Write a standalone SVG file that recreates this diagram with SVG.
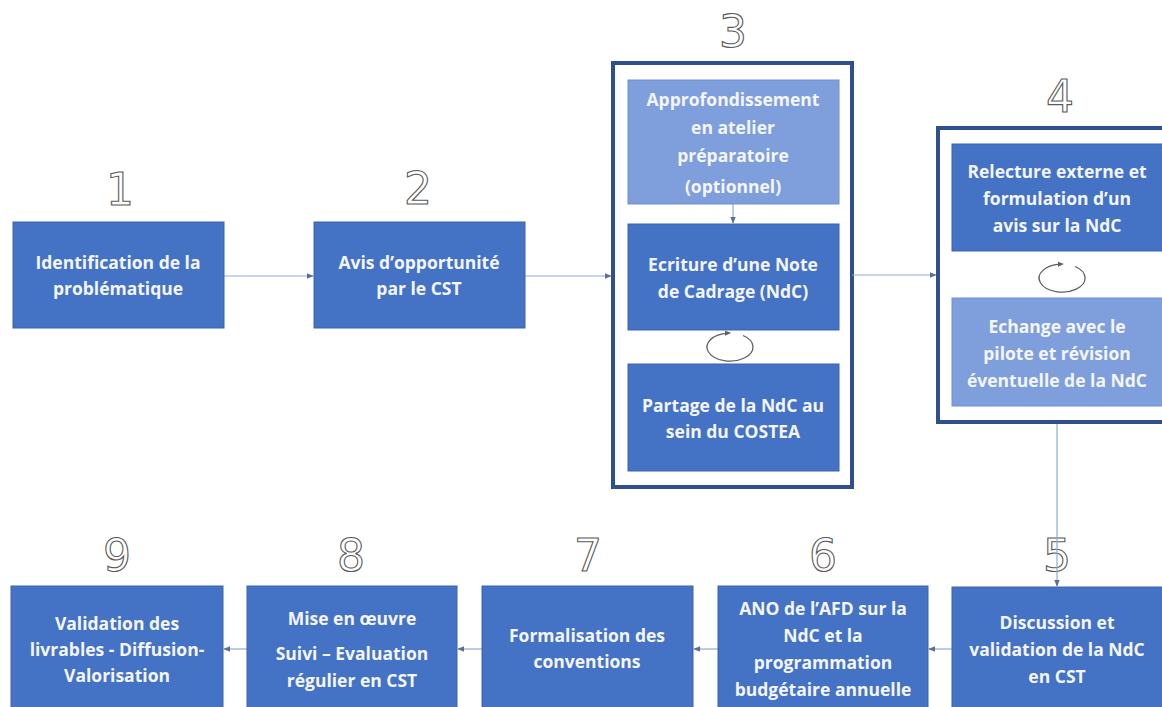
<svg xmlns="http://www.w3.org/2000/svg" width="1162" height="707" viewBox="0 0 1162 707">
<defs>
<style>
.box{fill:#4472C4;stroke:#3B64B0;stroke-width:1}
.lbox{fill:#7F9FDC;stroke:#6F8FD0;stroke-width:1}
.grp{fill:#FFFFFF;stroke:#2F4F8F;stroke-width:4}
.t{font-family:"Open Sans","Liberation Sans",Arial,sans-serif;font-weight:bold;font-size:17.5px;fill:#F4F6FB;text-anchor:middle}
.num{font-family:"DejaVu Sans","Liberation Sans",sans-serif;font-size:44px;fill:#FFFFFF;stroke:#5A5A5A;stroke-width:1.1;text-anchor:middle}
.con{fill:none;stroke:#8EA9DB;stroke-width:1.2}
.loop{fill:none;stroke:#606060;stroke-width:1.3}
</style>
<marker id="ah" viewBox="0 0 10 10" refX="9" refY="5" markerWidth="6" markerHeight="6" orient="auto">
<path d="M0,1 L10,5 L0,9 Z" fill="#5A6E96"/>
</marker>
<marker id="lh" viewBox="0 0 10 10" refX="5" refY="5" markerWidth="5" markerHeight="5" orient="auto">
<path d="M0,1 L10,5 L0,9 Z" fill="#606060"/>
</marker>
</defs>
<rect width="1162" height="707" fill="#FFFFFF"/>

<g id="numbers">
<text class="num" x="120" y="205">1</text>
<text class="num" x="418" y="204">2</text>
<text class="num" x="733" y="47">3</text>
<text class="num" x="1060" y="112">4</text>
<text class="num" x="1057" y="571">5</text>
<text class="num" x="823" y="571">6</text>
<text class="num" x="588" y="571">7</text>
<text class="num" x="351" y="571">8</text>
<text class="num" x="117" y="571">9</text>
</g>

<g id="group3">
<rect class="grp" x="613" y="63" width="239" height="424"/>
</g>
<g id="group4">
<rect class="grp" x="938" y="128" width="240" height="294"/>
</g>

<g id="connectors">
<line class="con" x1="224" y1="276" x2="313" y2="276" marker-end="url(#ah)"/>
<line class="con" x1="525" y1="276" x2="611" y2="276" marker-end="url(#ah)"/>
<line class="con" x1="852" y1="275" x2="936" y2="275" marker-end="url(#ah)"/>
<line class="con" x1="733" y1="204" x2="733" y2="223" marker-end="url(#ah)"/>
<line class="con" x1="1057" y1="424" x2="1057" y2="586" marker-end="url(#ah)"/>
<line class="con" x1="952" y1="649" x2="929" y2="649" marker-end="url(#ah)"/>
<line class="con" x1="718" y1="649" x2="694" y2="649" marker-end="url(#ah)"/>
<line class="con" x1="482" y1="649" x2="458" y2="649" marker-end="url(#ah)"/>
<line class="con" x1="247" y1="649" x2="224" y2="649" marker-end="url(#ah)"/>
</g>

<g id="loops">
<path class="loop" d="M743,335.5 A23,14 0 1,1 728,333.1" marker-end="url(#lh)"/>
<path class="loop" d="M1075,266.5 A23,14 0 1,1 1061,264.1" marker-end="url(#lh)"/>
</g>

<g id="n1">
<rect class="box" x="13" y="222" width="211" height="106"/>
<text class="t" x="118" y="269">Identification de la</text>
<text class="t" x="118" y="295">problématique</text>
</g>
<g id="n2">
<rect class="box" x="314" y="222" width="211" height="106"/>
<text class="t" x="419" y="269">Avis d’opportunité</text>
<text class="t" x="419" y="295">par le CST</text>
</g>
<g id="n3a">
<rect class="lbox" x="628" y="80" width="211" height="124"/>
<text class="t" x="733" y="106">Approfondissement</text>
<text class="t" x="733" y="134">en atelier</text>
<text class="t" x="733" y="162">préparatoire</text>
<text class="t" x="733" y="193">(optionnel)</text>
</g>
<g id="n3b">
<rect class="box" x="628" y="224" width="211" height="106"/>
<text class="t" x="733" y="271">Ecriture d’une Note</text>
<text class="t" x="733" y="298">de Cadrage (NdC)</text>
</g>
<g id="n3c">
<rect class="box" x="628" y="364" width="211" height="107"/>
<text class="t" x="733" y="412">Partage de la NdC au</text>
<text class="t" x="733" y="438">sein du COSTEA</text>
</g>
<g id="n4a">
<rect class="box" x="952" y="144" width="212" height="107"/>
<text class="t" x="1057" y="178">Relecture externe et</text>
<text class="t" x="1057" y="205">formulation d’un</text>
<text class="t" x="1057" y="232">avis sur la NdC</text>
</g>
<g id="n4b">
<rect class="lbox" x="952" y="298" width="212" height="108"/>
<text class="t" x="1057" y="333">Echange avec le</text>
<text class="t" x="1057" y="360">pilote et révision</text>
<text class="t" x="1057" y="387">éventuelle de la NdC</text>
</g>
<g id="n5">
<rect class="box" x="952" y="587" width="212" height="125"/>
<text class="t" x="1057" y="629">Discussion et</text>
<text class="t" x="1057" y="656">validation de la NdC</text>
<text class="t" x="1057" y="683">en CST</text>
</g>
<g id="n6">
<rect class="box" x="718" y="586" width="210" height="126"/>
<text class="t" x="823" y="615">ANO de l’AFD sur la</text>
<text class="t" x="823" y="642">NdC et la</text>
<text class="t" x="823" y="669">programmation</text>
<text class="t" x="823" y="696">budgétaire annuelle</text>
</g>
<g id="n7">
<rect class="box" x="482" y="586" width="211" height="126"/>
<text class="t" x="587" y="642">Formalisation des</text>
<text class="t" x="587" y="668">conventions</text>
</g>
<g id="n8">
<rect class="box" x="247" y="586" width="210" height="126"/>
<text class="t" x="352" y="625">Mise en œuvre</text>
<text class="t" x="352" y="660">Suivi – Evaluation</text>
<text class="t" x="352" y="687">régulier en CST</text>
</g>
<g id="n9">
<rect class="box" x="11" y="586" width="212" height="126"/>
<text class="t" x="117" y="630">Validation des</text>
<text class="t" x="117" y="656">livrables - Diffusion-</text>
<text class="t" x="117" y="682">Valorisation</text>
</g>
</svg>
